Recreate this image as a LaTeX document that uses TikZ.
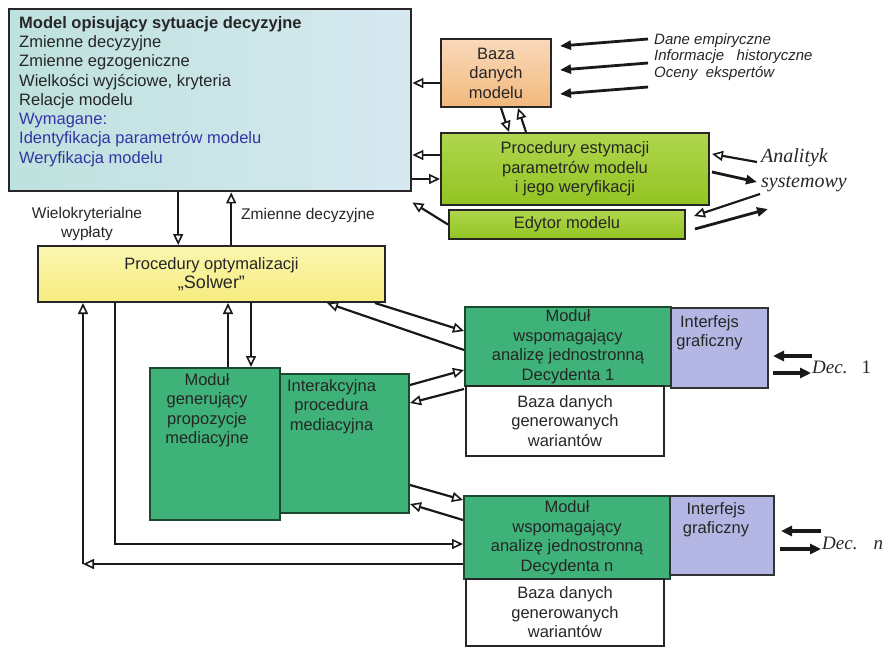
\documentclass[tikz,border=0pt]{standalone}
\usepackage{fontspec}
\setmainfont{Liberation Sans}
\newfontfamily\tms{Liberation Serif}
\usetikzlibrary{arrows.meta,positioning,calc}
\definecolor{modl}{RGB}{190,226,222}
\definecolor{modr}{RGB}{214,232,240}
\definecolor{bazatop}{RGB}{249,218,186}
\definecolor{bazabot}{RGB}{242,184,124}
\definecolor{esttop}{RGB}{176,214,78}
\definecolor{estbot}{RGB}{146,196,34}
\definecolor{soltop}{RGB}{250,246,176}
\definecolor{solbot}{RGB}{246,236,126}
\definecolor{modgreen}{RGB}{62,178,120}
\definecolor{modedge}{RGB}{28,72,46}
\definecolor{iflav}{RGB}{180,182,228}
\definecolor{blu}{RGB}{52,52,165}
\definecolor{ink}{RGB}{38,38,38}

\begin{document}
\begin{tikzpicture}[
  x=1pt, y=-1pt,
  font=\fontsize{16.5}{19.5}\selectfont, text=ink,
  box/.style={draw=black!85, line width=2pt, anchor=north west, inner sep=0pt, align=center},
  modbox/.style={box, draw=modedge, fill=modgreen},
  ifbox/.style={box, draw=black!80, fill=iflav},
  wbox/.style={box, fill=white},
  intxt/.style={anchor=north, align=center, inner sep=0pt},
  lab/.style={align=center, inner sep=0pt, font=\fontsize{15.5}{19}\selectfont},
  srclab/.style={anchor=north west, align=left, inner sep=0pt, font=\fontsize{15}{16.5}\selectfont\itshape},
  who/.style={anchor=west, align=left, inner sep=0pt, font=\fontsize{20}{25}\selectfont\tms\itshape},
  arr/.style={-{Triangle[open, length=11pt, width=10pt, line width=1.6pt]}, line width=2.2pt, draw=black!90},
  farr/.style={-{Triangle[length=11pt, width=9pt]}, line width=2.8pt, draw=black!90},
  fat/.style={-{Triangle[length=11pt, width=10pt]}, line width=3.2pt, draw=black!90}
]
\useasboundingbox (0,0) rectangle (889,648);

% ---------- model and its sources ----------
\node[box, line width=2.4pt, minimum width=402pt, minimum height=182pt, left color=modl, right color=modr] (model) at (8,8) {};
\node[anchor=north west, align=left, inner sep=0pt, font=\fontsize{16.5}{19.3}\selectfont] (modeltxt) at (19,16) {\textbf{Model opisujący sytuacje decyzyjne}\\
  Zmienne decyzyjne\\ Zmienne egzogeniczne\\ Wielkości wyjściowe, kryteria\\ Relacje modelu\\
  \textcolor{blu}{Wymagane:}\\ \textcolor{blu}{Identyfikacja parametrów modelu}\\ \textcolor{blu}{Weryfikacja modelu}};

\node[box, minimum width=110pt, minimum height=68pt, top color=bazatop, bottom color=bazabot] (baza) at (440,38) {Baza\\ danych\\ modelu};
\node[box, minimum width=268pt, minimum height=72pt, top color=esttop, bottom color=estbot] (estym) at (440,132) {Procedury estymacji\\ parametrów modelu\\ i jego weryfikacji};
\node[box, minimum width=236pt, minimum height=29pt, top color=esttop, bottom color=estbot] (edytor) at (448,209) {Edytor modelu};

\node[srclab] (src) at (654,33) {Dane empiryczne\\ Informacje \ \ historyczne\\ Oceny \ ekspertów};
\node[who, anchor=north west] (anal) at (761,148) {Analityk\\ systemowy};

\foreach \a/\b in {6/-27, 30/-3, 54/21}
  \draw[farr] ($(src.north west)+(-6,\a)$) -- ($(baza.east)+(8,\b)$);

\draw[arr] ([yshift=-10pt]baza.west) -- ([yshift=-10pt]baza.west -| model.east);
\draw[arr] ([yshift=14pt]estym.west) -- ([yshift=14pt]estym.west -| model.east);
\draw[arr] ([yshift=-10pt]estym.west -| model.east) -- ([yshift=-10pt]estym.west);
\draw[arr] (edytor.west) -- ([yshift=-10pt]model.south east);
\draw[arr] ([xshift=5pt]baza.south) -- ([xshift=-66pt]estym.north);
\draw[arr] ([xshift=-49pt]estym.north) -- ([xshift=22pt]baza.south);

\draw[arr] ($(anal.north west)+(-4,14)$) -- ($(estym.east)+(2,-15)$);
\draw[farr] ($(estym.east)+(2,3)$) -- ($(anal.north west)+(-4,34)$);
\draw[arr] ($(anal.north west)+(-1,46)$) -- ($(edytor.east)+(8,-8.5)$);
\draw[farr] ($(edytor.east)+(9,4.5)$) -- ($(anal.north west)+(7,61)$);

% ---------- solver ----------
\node[box, minimum width=347pt, minimum height=56pt, top color=soltop, bottom color=solbot] (solver) at (37,245)
  {Procedury optymalizacji\\ {\fontsize{18}{20}\selectfont „Solwer”}};
\node[lab] (payoff) at (87,224) {Wielokryterialne\\ wypłaty};
\node[lab] (decvar) at (308,215) {Zmienne decyzyjne};

\draw[arr] ([xshift=-32pt]model.south) -- ([xshift=-32pt]model.south |- solver.north);
\draw[arr] ([xshift=21pt]model.south |- solver.north) -- ([xshift=21pt]model.south);

% ---------- mediation ----------
\node[modbox, minimum width=130pt, minimum height=152pt] (gen) at (149,367) {};
\node[intxt, below=6pt of gen.north, xshift=-8pt] (gentxt) {Moduł\\ generujący\\ propozycje\\ mediacyjne};
\node[modbox, minimum width=129pt, minimum height=139pt] (inter) at (279,373) {};
\node[intxt, below=6pt of inter.north, xshift=-13pt] (intertxt) {Interakcyjna\\ procedura\\ mediacyjna};

\draw[arr] ([xshift=13pt]gen.north) -- ([xshift=13pt]gen.north |- solver.south);
\draw[arr] ([xshift=36pt]gen.north |- solver.south) -- ([xshift=36pt]gen.north);

% ---------- decision makers ----------
\node[modbox, minimum width=206pt, minimum height=79pt] (m1) at (464,306) {Moduł\\ wspomagający\\ analizę jednostronną\\ Decydenta 1};
\node[ifbox, minimum width=97pt, minimum height=80pt] (i1) at (670,307) {};
\node[intxt, below=8pt of i1.north, xshift=-10pt] (i1txt) {Interfejs\\ graficzny};
\node[wbox, minimum width=198pt, minimum height=70pt] (b1) at (465,385) {Baza danych\\ generowanych\\ wariantów};

\node[modbox, minimum width=206pt, minimum height=83pt] (mn) at (463,495) {Moduł\\ wspomagający\\ analizę jednostronną\\ Decydenta n};
\node[ifbox, minimum width=104pt, minimum height=79pt] (iN) at (669,495) {};
\node[intxt, below=7pt of iN.north, xshift=-6pt] (iNtxt) {Interfejs\\ graficzny};
\node[wbox, minimum width=198pt, minimum height=67pt] (bN) at (465,578) {Baza danych\\ generowanych\\ wariantów};

\node[who, font=\fontsize{19}{22}\selectfont\tms\itshape] (dec1) at (812,367) {Dec.\hspace{14pt}{\upshape 1}};
\node[who, font=\fontsize{19}{22}\selectfont\tms\itshape] (decn) at (822,543) {Dec.\hspace{16pt}n};

\draw[fat] ($(dec1.west)+(0,-11)$) -- ++(-39,0);
\draw[fat] ($(dec1.west)+(-39,6)$) -- ++(38,0);
\draw[fat] ($(decn.west)+(-1,-12)$) -- ++(-40,0);
\draw[fat] ($(decn.west)+(-42,6)$) -- ++(41,0);

\draw[arr] ($(solver.south east)+(-11,0)$) -- ($(m1.west)+(0,-15.5)$);
\draw[arr] ($(m1.west)+(0,3.5)$) -- ($(solver.south east)+(-59,0)$);
\draw[arr] ($(inter.north east)+(0,12)$) -- ($(m1.south west)+(0,-17)$);
\draw[arr] ($(m1.south west)+(0,2)$) -- ($(inter.north east)+(0,30)$);
\draw[arr] ($(inter.south east)+(0,-29)$) -- ($(mn.north west)+(0,5)$);
\draw[arr] ($(mn.north west)+(0,25)$) -- ($(inter.south east)+(0,-10)$);

% feedback loops round the left
\draw[arr] ($(solver.south west)+(78,0)$) |- ($(mn.west)+(0,6.5)$);
\draw[arr] ($(mn.west)+(0,26.5)$) -- ++(-380,0) coordinate (corner);
\draw[arr] (corner) -- (corner |- solver.south);

\end{tikzpicture}
\end{document}
